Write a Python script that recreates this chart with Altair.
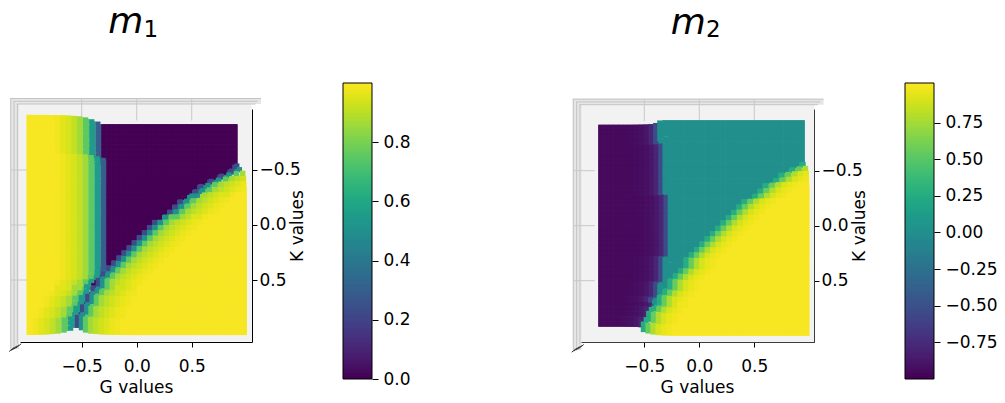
import altair as alt
import pandas as pd

# ---------------- data ----------------
# 40 x 40 surface grid (cell centres) for G (horizontal) and K (vertical, increasing downward)
G_centers = [round(-0.975 + 0.05 * i, 3) for i in range(40)]
K_centers = [round(-0.975 + 0.05 * i, 3) for i in range(40)]

# m1: per K row, G where the dark (0) plateau starts (left boundary) and ends (diagonal boundary)
m1_left_edge = [-0.36, -0.35, -0.35, -0.34, -0.34, -0.33, -0.33, -0.32, -0.32, -0.31,
                -0.31, -0.30, -0.30, -0.30, -0.30, -0.30, -0.30, -0.30, -0.30, -0.30,
                -0.29, -0.29, -0.29, -0.29, -0.29, -0.29, -0.29, -0.30, -0.31, -0.32,
                -0.33, -0.33, -0.33, -0.33, -0.33, -0.33, -0.33, -0.33, -0.33, -0.33]
m1_diag_edge = [9, 9, 9, 9, 9, 9, 9, 9, 0.95, 0.88,
                0.80, 0.71, 0.62, 0.545, 0.475, 0.41, 0.345, 0.285, 0.225, 0.17,
                0.115, 0.06, 0.01, -0.04, -0.09, -0.14, -0.19, -0.24, -0.29, -0.34,
                -0.385, -0.425, -0.46, -0.49, -0.52, -0.545, -0.57, -0.59, -0.605, -0.62]
m1_left_ramp = [0.30, 0.55, 0.75, 0.86, 0.91, 0.94, 0.96, 0.98]
m1_diag_ramp = [0.22, 0.50, 0.75, 0.86, 0.90, 0.93, 0.95, 0.97, 0.98]
m1_plateaus = [0.99, 0.0, 0.99]

# m2
m2_left_edge = [-0.39, -0.39, -0.38, -0.38, -0.37, -0.37, -0.36, -0.36, -0.35, -0.35,
                -0.34, -0.34, -0.33, -0.33, -0.32, -0.32, -0.32, -0.32, -0.32, -0.32,
                -0.31, -0.31, -0.31, -0.31, -0.32, -0.32, -0.33, -0.34, -0.35, -0.36,
                -0.37, -0.38, -0.39, -0.41, -0.43, -0.46, -0.49, -0.52, -0.55, -0.57]
m2_diag_edge = [9, 9, 9, 9, 9, 9, 9, 9, 0.93, 0.84,
                0.76, 0.685, 0.615, 0.55, 0.485, 0.42, 0.36, 0.30, 0.245, 0.19,
                0.14, 0.09, 0.04, -0.01, -0.055, -0.095, -0.135, -0.17, -0.205, -0.24,
                -0.28, -0.32, -0.355, -0.39, -0.425, -0.46, -0.49, -0.52, -0.55, -0.57]
m2_left_ramp = [-0.55, -0.80, -0.88, -0.92, -0.94, -0.95]
m2_diag_ramp = [0.25, 0.55, 0.78, 0.90, 0.95, 0.98]
m2_plateaus = [-0.96, 0.0, 1.0]

# axis ticks / colorbar ticks
G_ticks = [-0.5, 0.0, 0.5]
K_ticks = [-0.5, 0.0, 0.5]
cb1_ticks = [0.0, 0.2, 0.4, 0.6, 0.8]
cb2_ticks = [-0.75, -0.5, -0.25, 0.0, 0.25, 0.5, 0.75]
cb1_range = [0.0, 1.0]
cb2_range = [-1.0, 1.02]

titles = [("m", "1"), ("m", "2")]

FONT = "DejaVu Sans"
W, H = 1005, 403
HALF = 0.025
PAD_TOP = 0.0
PAD_UNDER = 0.002
# perspective of the top-down 3D view: lowest surface points appear shrunk by this factor
NEAR_FAR = (0.915, 1.0)


def build_values(left_edge, diag_edge, left_ramp, diag_ramp, plateaus):
    grid = []
    for i, K in enumerate(K_centers):
        de = diag_edge[i]
        merged = de <= left_edge[i]
        le = min(left_edge[i], de)
        row = []
        for G in G_centers:
            if G < le:
                n = int((le - G) / 0.05) + (1 if merged else 0)
                v = left_ramp[n] if n < len(left_ramp) else plateaus[0]
            elif G > de:
                n = int((G - de) / 0.05)
                v = diag_ramp[n] if n < len(diag_ramp) else plateaus[2]
            else:
                v = plateaus[1]
            row.append(v)
        grid.append(row)
    return grid


def build_cells(grid, cdomain):
    lo, hi = cdomain

    def fac(v):
        t = min(max((v - lo) / (hi - lo), 0.0), 1.0)
        return NEAR_FAR[0] + (NEAR_FAR[1] - NEAR_FAR[0]) * t

    top, under = [], []
    n = len(grid)
    for i, K in enumerate(K_centers):
        for j, G in enumerate(G_centers):
            v = grid[i][j]
            f = fac(v)
            fu = min(fac(grid[a][b]) for a in range(max(i - 1, 0), min(i + 2, n))
                     for b in range(max(j - 1, 0), min(j + 2, n)))
            for lst, s, p in ((top, f, PAD_TOP), (under, fu, PAD_UNDER)):
                lst.append({"x": (G - HALF - p) * s, "x2": (G + HALF + p) * s,
                            "y": (K - HALF - p) * s, "y2": (K + HALF + p) * s, "v": v})
    top_df = pd.DataFrame(top).sort_values("v", kind="stable").reset_index(drop=True)
    return pd.DataFrame(under), top_df


def panel(grid, cdomain, gdom, grange, kdom, krange, xoff, yoff, title):
    under, top = build_cells(grid, cdomain)
    xs = alt.Scale(domain=gdom, range=grange, nice=False, zero=False)
    ys = alt.Scale(domain=kdom, range=krange, nice=False, zero=False)
    xaxis = alt.Axis(orient="bottom", offset=yoff, values=G_ticks, format=".1f", tickSize=5,
                     labelFontSize=17, labelPadding=11, title="G values", titleFontSize=17,
                     titleFontWeight="normal", titlePadding=5, grid=False)
    yaxis = alt.Axis(orient="right", offset=xoff, values=K_ticks, format=".1f", tickSize=5,
                     labelFontSize=17, labelPadding=2, title="K values", titleFontSize=17,
                     titleFontWeight="normal", titleAngle=270, titlePadding=6, grid=False)

    def enc(**kw):
        e = dict(x=alt.X("x:Q", scale=xs, axis=xaxis), y=alt.Y("y:Q", scale=ys, axis=yaxis))
        e.update(kw)
        return e

    pane = pd.DataFrame([{"x": -1.15, "x2": 1.045, "y": -1.155, "y2": 1.06}])
    strips = pd.DataFrame([
        {"x": -1.15, "x2": 1.13, "y": -1.155, "y2": -1.10},
        {"x": -1.15, "x2": -1.07, "y": -1.155, "y2": 1.13},
    ])
    hlines = pd.DataFrame([
        {"x": -1.15, "x2": 1.13, "y": -1.15},
        {"x": -1.12, "x2": 1.10, "y": -1.125},
        {"x": -1.09, "x2": 1.08, "y": -1.10},
    ])
    vlines = pd.DataFrame([
        {"x": -1.145, "y": -1.15, "y2": 1.13},
        {"x": -1.115, "y": -1.125, "y2": 1.10},
        {"x": -1.085, "y": -1.10, "y2": 1.08},
    ])
    gridv = pd.DataFrame([{"x": g, "y": -1.15, "y2": -0.95} for g in G_ticks])
    gridh = pd.DataFrame([{"x": -1.145, "x2": -0.95, "y": k} for k in K_ticks])
    zticks = pd.DataFrame([{"x": -1.16 + 0.02 * k, "x2": -1.11 + 0.02 * k,
                            "y": 1.15 - 0.01 * k, "y2": 1.11 - 0.01 * k} for k in range(4)])

    cscale = alt.Scale(scheme="viridis", domain=cdomain)
    l_pane = alt.Chart(pane).mark_rect(color="#f2f2f2").encode(**enc(x2="x2:Q", y2="y2:Q"))
    l_strip = alt.Chart(strips).mark_rect(color="#e6e6e6").encode(**enc(x2="x2:Q", y2="y2:Q"))
    l_h = alt.Chart(hlines).mark_rule(color="#c4c4c4", strokeWidth=1).encode(**enc(x2="x2:Q"))
    l_v = alt.Chart(vlines).mark_rule(color="#c4c4c4", strokeWidth=1).encode(**enc(y2="y2:Q"))
    l_gv = alt.Chart(gridv).mark_rule(color="#c8c8c8", strokeWidth=1).encode(**enc(y2="y2:Q"))
    l_gh = alt.Chart(gridh).mark_rule(color="#c8c8c8", strokeWidth=1).encode(**enc(x2="x2:Q"))
    l_zt = alt.Chart(zticks).mark_rule(color="#333333", strokeWidth=1).encode(
        **enc(x2="x2:Q", y2="y2:Q"))
    l_under = alt.Chart(under).mark_rect(strokeWidth=0).encode(**enc(
        x2="x2:Q", y2="y2:Q", color=alt.Color("v:Q", scale=cscale, legend=None)))
    l_top = alt.Chart(top).mark_rect(strokeWidth=0).encode(**enc(
        x2="x2:Q", y2="y2:Q", color=alt.Color("v:Q", scale=cscale, legend=None)))

    tdf_m = pd.DataFrame([{"x": -0.10, "y": -1.743, "t": title[0]}])
    tdf_s = pd.DataFrame([{"x": 0.128, "y": -1.712, "t": title[1]}])
    l_tm = alt.Chart(tdf_m).mark_text(font=FONT, fontSize=36, fontStyle="italic", align="center",
                                      baseline="alphabetic", color="black").encode(**enc(text="t:N"))
    l_ts = alt.Chart(tdf_s).mark_text(font=FONT, fontSize=23, align="center",
                                      baseline="alphabetic", color="black").encode(**enc(text="t:N"))
    return alt.layer(l_pane, l_strip, l_h, l_v, l_gv, l_gh, l_zt, l_under, l_top, l_tm, l_ts)


def colorbar(domain, ticks, fmt, xrange, yrange, xoff):
    n = 256
    step = (domain[1] - domain[0]) / n
    bar = pd.DataFrame([{"c0": 0.0, "c1": 1.0, "v": domain[0] + i * step,
                         "v2": min(domain[0] + (i + 3) * step, domain[1])} for i in range(n)])
    frame = pd.DataFrame([{"c0": 0.0, "c1": 1.0, "v": domain[0], "v2": domain[1]}])
    xs = alt.Scale(domain=[0, 1], range=xrange, nice=False, zero=False)
    ys = alt.Scale(domain=domain, range=yrange, nice=False, zero=False)
    yaxis = alt.Axis(orient="right", offset=xoff, values=ticks, format=fmt, tickSize=6,
                     labelFontSize=17, labelPadding=5, domain=False, grid=False, title=None)
    base_x = alt.X("c0:Q", scale=xs, axis=None)
    base_y = alt.Y("v:Q", scale=ys, axis=yaxis)
    b = alt.Chart(bar).mark_rect(strokeWidth=0).encode(
        x=base_x, x2="c1:Q", y=base_y, y2="v2:Q",
        color=alt.Color("v:Q", scale=alt.Scale(scheme="viridis", domain=domain), legend=None))
    f = alt.Chart(frame).mark_rect(fillOpacity=0, stroke="black", strokeWidth=1).encode(
        x=base_x, x2="c1:Q", y=base_y, y2="v2:Q")
    return alt.layer(b, f)


grid1 = build_values(m1_left_edge, m1_diag_edge, m1_left_ramp, m1_diag_ramp, m1_plateaus)
grid2 = build_values(m2_left_edge, m2_diag_edge, m2_left_ramp, m2_diag_ramp, m2_plateaus)

p1 = panel(grid1, cb1_range, [-1.061, 1.048], [20, 252], [-1.0545, 1.0636], [109, 342],
           252 - W, 342 - H, titles[0])
p2 = panel(grid2, cb2_range, [-1.0845, 1.0427], [580, 814], [-1.0609, 1.0573], [109, 342],
           814 - W, 342 - H, titles[1])
c1 = colorbar(cb1_range, cb1_ticks, ".1f", [343, 372], [379, 83], 372 - W)
c2 = colorbar(cb2_range, cb2_ticks, ".2f", [905, 934], [379, 83], 934 - W)

chart = alt.layer(p1, c1, p2, c2).resolve_scale(
    x="independent", y="independent", color="independent"
).properties(
    width=W, height=H, padding=0, autosize=alt.AutoSizeParams(type="none"), background="white"
).configure_view(stroke=None).configure_axis(
    labelFont=FONT, titleFont=FONT, labelColor="black", titleColor="black",
    domainColor="black", tickColor="black", domainWidth=1, tickWidth=1
)

chart.save("out.html", embed_options={"renderer": "svg", "actions": False})
